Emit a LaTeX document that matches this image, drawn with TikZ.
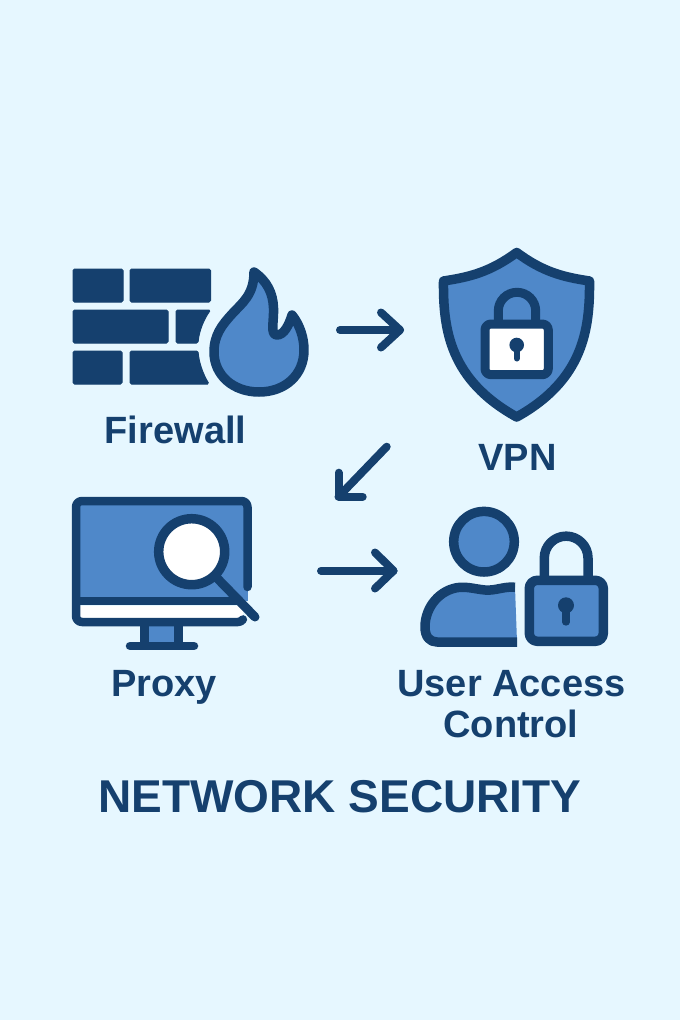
\documentclass[tikz,border=0pt]{standalone}
\usepackage{fontspec}
\setmainfont{Liberation Sans}
\definecolor{bgc}{HTML}{E6F7FF}
\definecolor{navy}{HTML}{15406E}
\definecolor{midblue}{HTML}{4F88C9}
\tikzset{
  brick/.style={fill=navy,draw=navy,line width=1pt,rounded corners=1.5pt},
  icon/.style={draw=navy,line width=9.5pt,line join=round,line cap=round},
  iconfill/.style={icon,fill=midblue},
  conn/.style={draw=navy,line width=8pt,line cap=round,line join=round},
  lbl/.style={text=navy,font=\bfseries\fontsize{38}{38}\selectfont,inner sep=0pt,anchor=base}
}
\begin{document}
\begin{tikzpicture}[x=1pt,y=-1pt]
\useasboundingbox (0,0) rectangle (680,1020);
\fill[bgc] (0,0) rectangle (680,1020);
% firewall bricks
\path[brick] (73,269) rectangle (123,302);
\path[brick] (130,269) rectangle (210.5,302);
\path[brick] (73,310) rectangle (168,343);
\path[brick] (176,310) -- (210.5,310) .. controls (204,319) and (199,331) .. (198,343) -- (176,343) -- cycle;
\path[brick] (73,351) rectangle (122,384);
\path[brick] (130,351) -- (198,351) .. controls (199,363) and (203,374) .. (209,384) -- (130,384) -- cycle;
% flame
\path[iconfill] (254,272) .. controls (267,281) and (273,293) .. (273.5,308)
  .. controls (274,322) and (270,335) .. (277,335)
  .. controls (284,335) and (289,325) .. (292,315)
  .. controls (300,325) and (304,338) .. (304,350)
  .. controls (304,375) and (285,392) .. (259,392)
  .. controls (233,392) and (214,375) .. (214,352)
  .. controls (214,335) and (222,325) .. (232,314)
  .. controls (242,303) and (254,295) .. (254,272) -- cycle;
% shield
\path[iconfill] (516.7,252.5) .. controls (490,272) and (470,277) .. (443.5,281)
  .. controls (443,330) and (450,380) .. (516.7,417)
  .. controls (583,380) and (590,330) .. (589.5,281)
  .. controls (563,277) and (543,272) .. (516.7,252.5) -- cycle;
\path[icon,line width=9pt,line cap=butt] (498.3,326) -- (498.3,311) arc[start angle=180,end angle=360,radius=18.7] -- (535.7,326);
\path[icon,fill=white,line width=9pt,rounded corners=6pt] (485,324) rectangle (548.3,374.7);
\fill[navy] (516.7,345) circle[radius=7.3];
\draw[navy,line width=6pt,line cap=round] (516.7,345) -- (516.7,358.5);
% monitor
\fill[midblue] (76,501) rectangle (247.5,601);
\fill[midblue] (247.5,580) -- (247,601) -- (232,601) -- cycle;
\fill[white] (80,605.5) rectangle (243,618);
\fill[midblue] (148,626) rectangle (175,642);
\path[icon,line width=8.5pt] (247.5,587) -- (247.5,507) arc[start angle=0,end angle=-90,radius=6] -- (82,501) arc[start angle=-90,end angle=-180,radius=6] -- (76,616) arc[start angle=180,end angle=90,radius=6] -- (238,622) arc[start angle=90,end angle=35,radius=6];
\path[icon,line width=8.5pt,line cap=butt] (76,601) -- (238,601);
\path[icon,line width=8.5pt,line cap=butt] (144.7,626) -- (144.7,646);
\path[icon,line width=8.5pt,line cap=butt] (178.3,626) -- (178.3,646);
\path[icon,line width=8.5pt] (130,646) -- (194,646);
\path[icon,line width=9pt] (216,577) -- (255,617);
\path[icon,fill=white] (191.7,551.7) circle[radius=33];
% user
\path[iconfill] (484,541.7) circle[radius=30.3];
\fill[midblue] (515,587.3) .. controls (505,586) and (495,591) .. (485,590)
  .. controls (475,589) and (470,587) .. (460,587.3)
  .. controls (440,589) and (425,607) .. (425,627)
  .. controls (425,637) and (430,642) .. (437,642) -- (517,642) -- cycle;
\path[icon,line cap=butt] (515,587.3) .. controls (505,586) and (495,591) .. (485,590)
  .. controls (475,589) and (470,587) .. (460,587.3)
  .. controls (440,589) and (425,607) .. (425,627)
  .. controls (425,637) and (430,642) .. (437,642) -- (517,642);
% user lock
\path[icon,line cap=butt] (544.3,582) -- (544.3,558) arc[start angle=180,end angle=360,radius=21.85] -- (588,582);
\path[iconfill,rounded corners=8pt] (529.3,580.3) rectangle (603.3,641.3);
\fill[navy] (566,605.3) circle[radius=8];
\draw[navy,line width=7.3pt,line cap=round] (566,605.3) -- (566,622);
% labels
\node[lbl] (fw) at (175.5,443) {Firewall};
\node[lbl] (vpn) at (517.5,470) {VPN};
\node[lbl] (px) at (164,696) {Proxy};
\node[lbl] (uac1) at (511.5,696) {User Access};
\node[lbl] (uac2) at (511,737) {Control};
\node[lbl,font=\bfseries\fontsize{46}{46}\selectfont] (title) at (340,812) {NETWORK SECURITY};
% connectors
\coordinate (a1s) at (340,330); \coordinate (a1e) at (400,330);
\coordinate (a1u) at (381,312.5); \coordinate (a1d) at (381,347.5);
\coordinate (a2s) at (386.7,446.7); \coordinate (a2e) at (338.5,496.7);
\coordinate (a2u) at (338.5,472.7); \coordinate (a2d) at (362.7,496.7);
\coordinate (a3s) at (321,570.7); \coordinate (a3e) at (393.5,570.7);
\coordinate (a3u) at (375,552.5); \coordinate (a3d) at (375,588.5);
\draw[conn] (a1s) -- (a1e);
\draw[conn] (a1u) -- (a1e) -- (a1d);
\draw[conn] (a2s) -- (a2e);
\draw[conn] (a2u) -- (a2e) -- (a2d);
\draw[conn] (a3s) -- (a3e);
\draw[conn] (a3u) -- (a3e) -- (a3d);
\end{tikzpicture}
\end{document}
